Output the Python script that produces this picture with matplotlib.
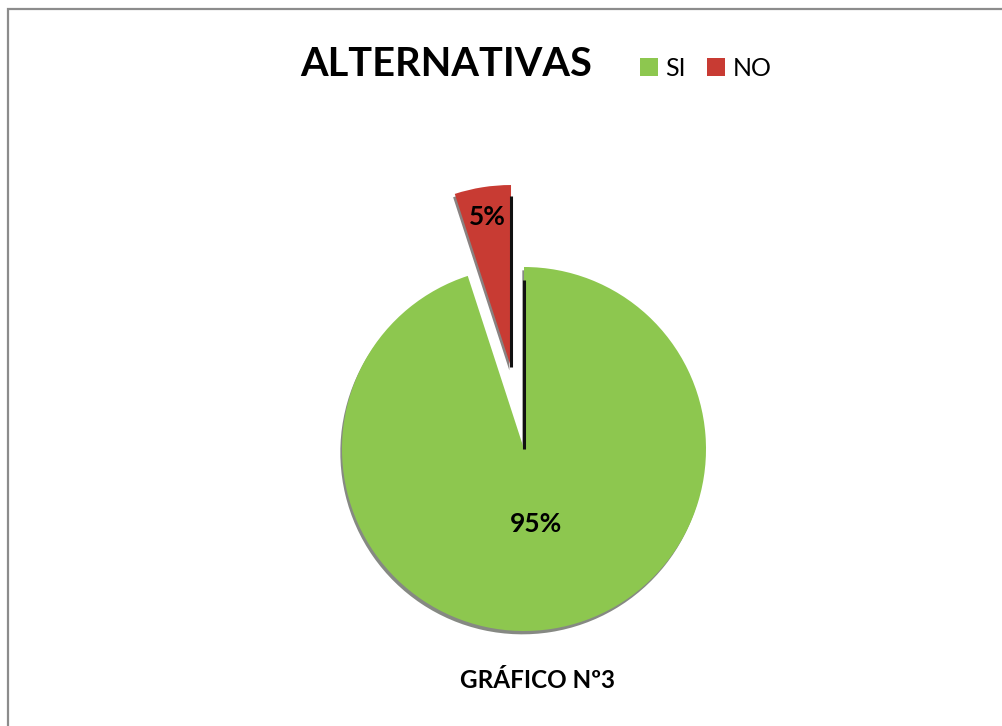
import matplotlib
matplotlib.use("Agg")
import matplotlib.pyplot as plt
import numpy as np
from matplotlib.patches import Rectangle

# Survey answers
categories = ["SI", "NO"]
percentages = [95, 5]
title_text = "ALTERNATIVAS"
caption_text = "GRÁFICO Nº3"

colors = ["#8DC74F", "#C83B33"]

W, H = 1002, 726
fig = plt.figure(figsize=(W / 100, H / 100), dpi=100)
ax = fig.add_axes([0, 0, 1, 1])

cx, cy = 524, H - 449
radius = 182
explode = [0, 83]  # offset in data units (pixels here)

wedges, _ = ax.pie(
    percentages,
    colors=colors,
    startangle=90,
    counterclock=False,
    explode=explode,
    radius=radius,
    center=(cx, cy),
    shadow={"ox": -1.2, "oy": -2.4, "shade": 0.9},
    wedgeprops={"linewidth": 0},
)

ax.set_xlim(0, W)
ax.set_ylim(0, H)
ax.set_aspect("equal")
ax.axis("off")

# Dark side faces along the cut at 12 o'clock
for w, r1 in zip(wedges, [0.93, 0.94]):
    wx, wy = w.center
    ang = np.deg2rad(90)
    ax.plot([wx, wx + r1 * radius * np.cos(ang)],
            [wy, wy + r1 * radius * np.sin(ang)],
            color="#111111", lw=2.2, solid_capstyle="butt", zorder=3)

# Percentage labels placed along each wedge's bisector
label_dist = [0.42, 0.835]
for w, pct, d in zip(wedges, percentages, label_dist):
    mid = np.deg2rad((w.theta1 + w.theta2) / 2)
    wx, wy = w.center
    ax.text(wx + d * radius * np.cos(mid), wy + d * radius * np.sin(mid),
            f"{pct}%", ha="center", va="center", fontsize=19,
            fontweight="bold", family="Lato", color="black", zorder=4)

# Title and legend
fig.text(446 / W, 1 - 65 / H, title_text, ha="center", va="center",
         fontsize=28.6, fontweight="bold", family="Lato")
leg = fig.legend(wedges, categories, loc="center left",
                 bbox_to_anchor=(640 / W, 1 - 68 / H), ncol=2,
                 frameon=False, borderpad=0, borderaxespad=0,
                 handlelength=0.72, handleheight=0.72,
                 handletextpad=0.3, columnspacing=0.85,
                 prop={"family": "Lato", "size": 18})

# Caption under the pie
fig.text(537 / W, 1 - 680 / H, caption_text, ha="center", va="center",
         fontsize=17.5, fontweight="bold", family="Lato")

# Chart frame
ax.add_patch(Rectangle((8.5, -20), W + 40, H - 9 + 20, fill=False,
                       edgecolor="#8C8C8C", linewidth=1.6))

fig.savefig("out.png", dpi=100, facecolor="white")
